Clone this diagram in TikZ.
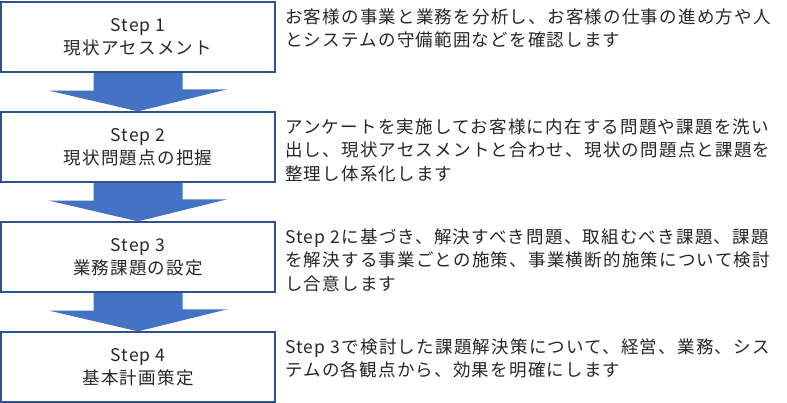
\documentclass[tikz,border=0pt]{standalone}
\usepackage{fontspec}
\setmainfont{Noto Sans CJK JP}[LetterSpace=7]
\usetikzlibrary{calc,backgrounds}
\definecolor{boxblue}{HTML}{2F528F}
\definecolor{arrowblue}{HTML}{4472C4}
\definecolor{txt}{HTML}{262626}
\begin{document}
\begin{tikzpicture}[x=1pt,y=-1pt,
  stepbox/.style={draw=boxblue, fill=white, line width=1.3pt, minimum width=274pt, minimum height=70pt, inner sep=0pt, align=center, text=txt, font=\fontsize{17.5}{23}\selectfont},
  desc/.style={anchor=north west, inner sep=0pt, align=left, text=txt, font=\fontsize{17.5}{23.5}\selectfont},
  blockarrow/.style={fill=arrowblue, draw=none}]
\useasboundingbox (0,0) rectangle (787,403);
\node[stepbox] (b1) at (138,37)  {Step 1\\現状アセスメント};
\node[stepbox] (b2) at (138,147) {Step 2\\現状問題点の把握};
\node[stepbox] (b3) at (138,257) {Step 3\\業務課題の設定};
\node[stepbox] (b4) at (138,367) {Step 4\\基本計画策定};
\node[desc] (t1) at (285,8.5)   {お客様の事業と業務を分析し、お客様の仕事の進め方や人\\とシステムの守備範囲などを確認します};
\node[desc] (t2) at (285,118.5) {アンケートを実施してお客様に内在する問題や課題を洗い\\出し、現状アセスメントと合わせ、現状の問題点と課題を\\整理し体系化します};
\node[desc] (t3) at (285,228.5) {Step 2に基づき、解決すべき問題、取組むべき課題、課題\\を解決する事業ごとの施策、事業横断的施策について検討\\し合意します};
\node[desc] (t4) at (285,338.5) {Step 3で検討した課題解決策について、経営、業務、シス\\テムの各観点から、効果を明確にします};
\begin{scope}[on background layer]
\foreach \a/\b in {b1/b2,b2/b3,b3/b4}{
  \fill[blockarrow] ($(\a.south)+(-44.5,0)$) -- ++(0,18) -- ++(-44.5,0) -- (\b.north)
     -- ++(89,-22) -- ++(-44.5,0) -- ($(\a.south)+(44.5,0)$) -- cycle;
}
\end{scope}
\end{tikzpicture}
\end{document}
